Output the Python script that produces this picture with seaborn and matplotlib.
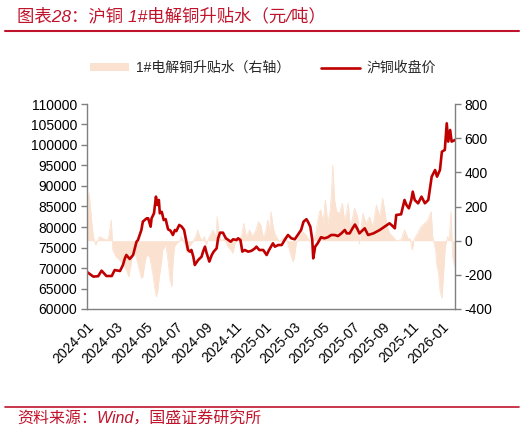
import matplotlib
matplotlib.use("Agg")
import matplotlib.pyplot as plt
from matplotlib.patches import Patch
from matplotlib.lines import Line2D
import seaborn as sns
import pandas as pd

# ---------------- data ----------------
price_dates = [
    "2024-01-02", "2024-01-14", "2024-01-24", "2024-01-31", "2024-02-10", "2024-02-21",
    "2024-02-27", "2024-03-09", "2024-03-15", "2024-03-19", "2024-03-22", "2024-03-29",
    "2024-04-05", "2024-04-12", "2024-04-15", "2024-04-22", "2024-04-25", "2024-05-03",
    "2024-05-06", "2024-05-11", "2024-05-13", "2024-05-18", "2024-05-22", "2024-05-25",
    "2024-05-28", "2024-05-30", "2024-06-03", "2024-06-07", "2024-06-11", "2024-06-16",
    "2024-06-21", "2024-06-26", "2024-06-30", "2024-07-03", "2024-07-09", "2024-07-14",
    "2024-07-19", "2024-07-23", "2024-07-27", "2024-07-31", "2024-08-03", "2024-08-07",
    "2024-08-10", "2024-08-17", "2024-08-24", "2024-08-27", "2024-08-31", "2024-09-03",
    "2024-09-09", "2024-09-14", "2024-09-18", "2024-09-24", "2024-09-27", "2024-10-01",
    "2024-10-07", "2024-10-13", "2024-10-18", "2024-10-23", "2024-10-28", "2024-11-04",
    "2024-11-07", "2024-11-12", "2024-11-16", "2024-11-21", "2024-11-28", "2024-12-05",
    "2024-12-12", "2024-12-15", "2024-12-21", "2024-12-29", "2025-01-05", "2025-01-10",
    "2025-01-14", "2025-01-18", "2025-01-22", "2025-01-29", "2025-02-05", "2025-02-12",
    "2025-02-18", "2025-02-25", "2025-03-04", "2025-03-10", "2025-03-17", "2025-03-22",
    "2025-03-28", "2025-03-31", "2025-04-05", "2025-04-09", "2025-04-11", "2025-04-15",
    "2025-04-20", "2025-04-27", "2025-05-04", "2025-05-11", "2025-05-18", "2025-05-25",
    "2025-06-01", "2025-06-08", "2025-06-15", "2025-06-19", "2025-06-25", "2025-07-02",
    "2025-07-06", "2025-07-12", "2025-07-15", "2025-07-26", "2025-08-02", "2025-08-13",
    "2025-08-26", "2025-09-05", "2025-09-15", "2025-09-20", "2025-09-26", "2025-09-29",
    "2025-10-09", "2025-10-16", "2025-10-20", "2025-10-25", "2025-10-30", "2025-11-02",
    "2025-11-06", "2025-11-13", "2025-11-20", "2025-11-27", "2025-12-04", "2025-12-11",
    "2025-12-14", "2025-12-18", "2025-12-22", "2025-12-28", "2026-01-01", "2026-01-07",
    "2026-01-11", "2026-01-14", "2026-01-18", "2026-01-21", "2026-01-28",
]
price_values = [
    68950, 67900, 68000, 69350, 68050, 68050,
    69500, 69270, 70730, 72360, 73170, 72200,
    73170, 76420, 76830, 79270, 81300, 82120,
    82120, 80080, 82100, 83340, 87400, 85370,
    86590, 83340, 83700, 81700, 81900, 79430,
    79100, 78050, 79270, 79000, 80500, 80100,
    79270, 76830, 74390, 74000, 74400, 72760,
    70730, 71950, 72760, 73980, 75200, 73800,
    71560, 73170, 74000, 74800, 77240, 78620,
    78620, 77240, 76830, 76420, 77000, 76830,
    77240, 76830, 74000, 74390, 73980, 74200,
    74800, 75200, 74390, 74390, 73170, 74390,
    75200, 76020, 75200, 75610, 75610, 77000,
    78050, 77240, 77000, 78050, 79270, 81300,
    81900, 81300, 80080, 76830, 72360, 75200,
    76000, 77500, 77240, 77500, 78050, 78050,
    77800, 78450, 79270, 78450, 78450, 79900,
    80600, 79270, 78450, 79680, 78050, 78450,
    79270, 80080, 80900, 80400, 79680, 82930,
    83100, 86590, 85370, 84560, 86590, 88620,
    86590, 85780, 87400, 85780, 86590, 92280,
    93000, 93900, 92280, 93900, 98370, 98800,
    105290, 100830, 103660, 100830, 101220,
]

spread_dates = [
    "2024-01-02", "2024-01-05", "2024-01-08", "2024-01-11", "2024-01-14", "2024-01-19",
    "2024-01-23", "2024-01-27", "2024-02-02", "2024-02-08", "2024-02-14", "2024-02-20",
    "2024-02-23", "2024-03-01", "2024-03-08", "2024-03-15", "2024-03-22", "2024-03-27",
    "2024-04-01", "2024-04-04", "2024-04-08", "2024-04-11", "2024-04-18", "2024-04-22",
    "2024-04-25", "2024-04-29", "2024-05-03", "2024-05-09", "2024-05-16", "2024-05-19",
    "2024-05-23", "2024-05-26", "2024-05-29", "2024-06-02", "2024-06-05", "2024-06-11",
    "2024-06-15", "2024-06-20", "2024-06-24", "2024-06-26", "2024-06-29", "2024-07-04",
    "2024-07-10", "2024-07-13", "2024-07-20", "2024-07-24", "2024-07-27", "2024-07-30",
    "2024-08-06", "2024-08-13", "2024-08-16", "2024-08-20", "2024-08-25", "2024-08-30",
    "2024-09-02", "2024-09-09", "2024-09-16", "2024-09-23", "2024-09-25", "2024-09-28",
    "2024-10-03", "2024-10-10", "2024-10-17", "2024-10-24", "2024-10-27", "2024-11-01",
    "2024-11-07", "2024-11-14", "2024-11-19", "2024-11-24", "2024-12-01", "2024-12-07",
    "2024-12-14", "2024-12-19", "2024-12-24", "2024-12-29", "2025-01-03", "2025-01-07",
    "2025-01-11", "2025-01-14", "2025-01-19", "2025-01-23", "2025-01-31", "2025-02-07",
    "2025-02-14", "2025-02-21", "2025-02-28", "2025-03-03", "2025-03-07", "2025-03-14",
    "2025-03-20", "2025-03-27", "2025-04-03", "2025-04-09", "2025-04-16", "2025-04-20",
    "2025-04-24", "2025-04-27", "2025-05-01", "2025-05-06", "2025-05-11", "2025-05-16",
    "2025-05-19", "2025-05-21", "2025-05-25", "2025-05-29", "2025-06-04", "2025-06-10",
    "2025-06-14", "2025-06-19", "2025-06-22", "2025-06-26", "2025-06-30", "2025-07-05",
    "2025-07-10", "2025-07-13", "2025-07-15", "2025-07-22", "2025-07-29", "2025-08-05",
    "2025-08-12", "2025-08-19", "2025-08-26", "2025-09-01", "2025-09-05", "2025-09-09",
    "2025-09-15", "2025-09-22", "2025-09-29", "2025-10-09", "2025-10-16", "2025-10-23",
    "2025-10-28", "2025-11-01", "2025-11-05", "2025-11-12", "2025-11-19", "2025-11-26",
    "2025-12-03", "2025-12-10", "2025-12-13", "2025-12-19", "2025-12-21", "2025-12-25",
    "2025-12-28", "2026-01-01", "2026-01-04", "2026-01-08", "2026-01-13", "2026-01-16",
    "2026-01-20", "2026-01-23", "2026-01-27",
]
spread_values = [
    150, 281, 200, 100, 24, -25,
    5, 24, 14, 5, 10, 121,
    -55, -94, -113, -133, -172, -211,
    -133, -74, -35, -94, -172, -220,
    -211, -133, -84, -94, -201, -269,
    -328, -289, -211, -133, -55, -25,
    -94, -230, -269, -133, -35, -16,
    0, 24, -16, -55, -74, -35,
    -6, 33, 63, 24, 0, 24,
    -25, 24, 63, 24, 141, 63,
    0, 10, -35, -55, -74, -16,
    14, 24, 101, 24, 63, 24,
    63, 111, 92, 20, 53, 121,
    60, 170, 70, 33, -6, 12,
    23, -55, -123, -103, -16, 33,
    53, 33, 0, -6, 40, 111,
    170, 180, 100, 238, 100, 180,
    297, 443, 238, 170, 160, 220,
    120, 170, 220, 82, 120, 190,
    150, 111, -20, 160, 100, 140,
    82, 209, 140, 248, 180, 100,
    43, 24, 0, 5, 63, 14,
    10, -55, 10, 43, 82, 100,
    120, 170, 24, -55, -133, -191,
    -289, -337, -211, -35, 24, 0,
    170, -94, -150,
]

x_tick_labels = ["2024-01", "2024-03", "2024-05", "2024-07", "2024-09", "2024-11",
                 "2025-01", "2025-03", "2025-05", "2025-07", "2025-09", "2025-11", "2026-01"]
left_ticks = [60000, 65000, 70000, 75000, 80000, 85000, 90000, 95000, 100000, 105000, 110000]
right_ticks = [-400, -200, 0, 200, 400, 600, 800]

title_text = "图表28：沪铜 1#电解铜升贴水（元/吨）"
source_text = "资料来源：Wind，国盛证券研究所"
legend_spread = "1#电解铜升贴水（右轴）"
legend_price = "沪铜收盘价"

# ---------------- style ----------------
sns.set_theme(style="white")
plt.rcParams["font.family"] = ["Liberation Sans", "Noto Sans CJK SC", "DejaVu Sans"]

RED = "#C00000"
TITLE_RED = "#C0142C"
AREA = "#FBE1D0"
SPINE = "#808080"

price_df = pd.DataFrame({"date": pd.to_datetime(price_dates), "price": price_values})
spread_df = pd.DataFrame({"date": pd.to_datetime(spread_dates), "spread": spread_values})

fig = plt.figure(figsize=(5.26, 4.32), dpi=100)
ax = fig.add_axes([87 / 526, 1 - 309 / 432, (455 - 87) / 526, (309 - 104) / 432])
ax2 = ax.twinx()

# spread area on right axis
ax2.fill_between(spread_df["date"], 0, spread_df["spread"], color=AREA, linewidth=0)
sns.lineplot(data=spread_df, x="date", y="spread", ax=ax2, color=AREA, linewidth=0.6)

# price line on left axis
sns.lineplot(data=price_df, x="date", y="price", ax=ax, color=RED, linewidth=1.9)

ax.set_zorder(ax2.get_zorder() + 1)
ax.patch.set_visible(False)

ax.set_xlim(pd.Timestamp("2024-01-01"), pd.Timestamp("2026-01-28"))
ax.set_ylim(60000, 110000)
ax2.set_ylim(-400, 800)
ax.set_yticks(left_ticks)
ax.set_yticklabels([str(v) for v in left_ticks])
ax2.set_yticks(right_ticks)
ax2.set_yticklabels([str(v) for v in right_ticks])

tick_pos = pd.to_datetime([lab + "-01" for lab in x_tick_labels])
ax.set_xticks(tick_pos)
ax.set_xticklabels(x_tick_labels, rotation=45, ha="right", rotation_mode="anchor")

for a in (ax, ax2):
    a.set_xlabel("")
    a.set_ylabel("")
    a.grid(False)
    for s in a.spines.values():
        s.set_color(SPINE)
        s.set_linewidth(1.0)
    a.spines["top"].set_visible(False)

ax.spines["right"].set_visible(False)
ax2.spines["left"].set_visible(False)
ax2.spines["bottom"].set_visible(False)

ax.tick_params(axis="both", which="major", direction="out", length=4, width=1,
               color=SPINE, labelsize=10, labelcolor="black", pad=3)
ax.tick_params(axis="x", pad=4)
ax2.tick_params(axis="y", direction="out", length=4, width=1, color=SPINE,
                labelsize=10, labelcolor="black", pad=3)

# legend
handles = [Patch(facecolor=AREA, edgecolor="none", label=legend_spread),
           Line2D([0], [0], color=RED, linewidth=1.9, label=legend_price)]
fig.legend(handles=handles, loc="center", bbox_to_anchor=(0.5, 1 - 68 / 432), ncol=2,
           frameon=False, fontsize=10, handlelength=2.8, handleheight=0.5,
           columnspacing=2.2, handletextpad=0.5)

# title and source
fig.text(17 / 526, 1 - 16 / 432, title_text, color=TITLE_RED, fontsize=12.5,
         ha="left", va="center", fontstyle="italic")
fig.add_artist(Line2D([5 / 526, 519 / 526], [1 - 31 / 432, 1 - 31 / 432],
                      color=TITLE_RED, linewidth=1.5, transform=fig.transFigure))
fig.add_artist(Line2D([5 / 526, 519 / 526], [1 - 407 / 432, 1 - 407 / 432],
                      color=TITLE_RED, linewidth=1.2, transform=fig.transFigure))
fig.text(17 / 526, 1 - 419 / 432, source_text, color=TITLE_RED, fontsize=11.5,
         ha="left", va="center", fontstyle="italic")

fig.savefig("out.png", dpi=100)
